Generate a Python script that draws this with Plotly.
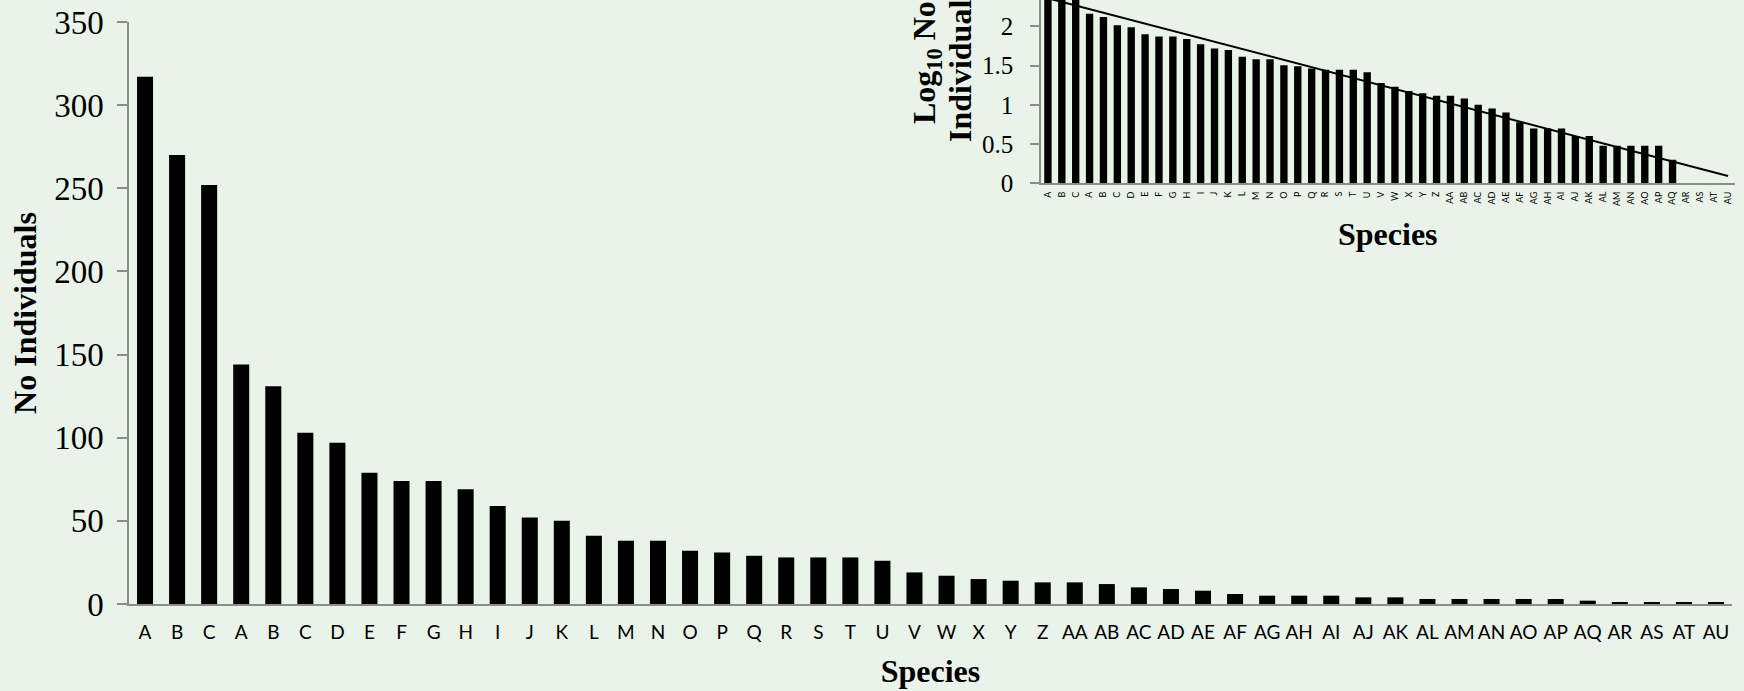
import plotly.graph_objects as go
import numpy as np

species = ["A", "B", "C", "A", "B", "C", "D", "E", "F", "G", "H", "I", "J", "K", "L",
           "M", "N", "O", "P", "Q", "R", "S", "T", "U", "V", "W", "X", "Y", "Z",
           "AA", "AB", "AC", "AD", "AE", "AF", "AG", "AH", "AI", "AJ", "AK", "AL",
           "AM", "AN", "AO", "AP", "AQ", "AR", "AS", "AT", "AU"]
individuals = [317, 270, 252, 144, 131, 103, 97, 79, 74, 74, 69, 59, 52, 50, 41,
               38, 38, 32, 31, 29, 28, 28, 28, 26, 19, 17, 15, 14, 13,
               13, 12, 10, 9, 8, 6, 5, 5, 5, 4, 4, 3,
               3, 3, 3, 3, 2, 1, 1, 1, 1]
log_individuals = [float(np.log10(v)) for v in individuals]
# linear trend line of the inset (end points)
trend_x = [0, 49]
trend_y = [2.357, 0.093]

main_yticks = [0, 50, 100, 150, 200, 250, 300, 350]
inset_yticks = [0, 0.5, 1, 1.5, 2, 2.5]

BG = "rgb(233,243,233)"
GRAY = "#8c8c8c"
SERIF = "Liberation Serif"
SANS = "Lato"

W, H = 1744, 691
ML, MB = 129, 87
PW, PH = W - ML, H - MB

def px_x(x):
    return (x - ML) / PW

def px_y(y):
    return (PH - y) / PH

xidx = list(range(len(species)))

fig = go.Figure()
fig.add_trace(go.Bar(x=xidx, y=individuals, width=0.5, marker=dict(color="black", line=dict(width=0)),
                     xaxis="x", yaxis="y", showlegend=False))
fig.add_trace(go.Bar(x=xidx, y=log_individuals, width=0.53, marker=dict(color="black", line=dict(width=0)),
                     xaxis="x2", yaxis="y2", showlegend=False))
fig.add_trace(go.Scatter(x=trend_x, y=trend_y, mode="lines", line=dict(color="black", width=2),
                         xaxis="x2", yaxis="y2", showlegend=False))

fig.update_layout(
    width=W, height=H,
    margin=dict(l=ML, r=0, t=0, b=MB, autoexpand=False),
    paper_bgcolor=BG, plot_bgcolor="rgba(0,0,0,0)",
    showlegend=False,
    xaxis=dict(domain=[0, px_x(1732)], range=[-0.5, 49.5], tickmode="array", tickvals=xidx, ticktext=species,
               showline=True, linecolor=GRAY, linewidth=1.5, ticks="", showgrid=False, zeroline=False,
               tickfont=dict(family=SANS, size=19, color="black"), ticklabelstandoff=10,
               title=dict(text="<b>Species</b>", font=dict(family=SERIF, size=32, color="black"), standoff=18),
               anchor="y", automargin=False),
    yaxis=dict(domain=[0, px_y(22)], range=[0, 350], tickmode="array", tickvals=main_yticks,
               showline=True, linecolor=GRAY, linewidth=1.5, ticks="outside", ticklen=10, tickcolor=GRAY, tickwidth=1.5,
               showgrid=False, zeroline=False,
               tickfont=dict(family=SERIF, size=33, color="black"), ticklabelstandoff=7,
               title=dict(text="<b>No Individuals</b>", font=dict(family=SERIF, size=32, color="black"), standoff=8),
               anchor="x", automargin=False),
    xaxis2=dict(domain=[px_x(1041), px_x(1735)], range=[-0.5, 49.5], tickmode="array", tickvals=xidx, ticktext=species,
                showline=True, linecolor=GRAY, linewidth=1.5, ticks="", showgrid=False, zeroline=False,
                tickangle=-90, tickfont=dict(family=SANS, size=9, color="black"), ticklabelstandoff=3,
                anchor="y2", automargin=False),
    yaxis2=dict(domain=[px_y(183.3), 1], range=[0, 183.3 / 78.5], tickmode="array", tickvals=inset_yticks,
                showline=True, linecolor=GRAY, linewidth=1.5, ticks="outside", ticklen=9, tickcolor=GRAY, tickwidth=1.5,
                showgrid=False, zeroline=False,
                tickfont=dict(family=SERIF, size=25, color="black"), ticklabelstandoff=12,
                anchor="x2", automargin=False),
    annotations=[
        dict(text="<b>Log<sub>10</sub> No</b>", textangle=-90, xref="paper", yref="paper",
             x=px_x(926), y=px_y(63), xanchor="center", yanchor="middle", showarrow=False,
             font=dict(family=SERIF, size=32, color="black")),
        dict(text="<b>Individuals</b>", textangle=-90, xref="paper", yref="paper",
             x=px_x(960), y=px_y(65), xanchor="center", yanchor="middle", showarrow=False,
             font=dict(family=SERIF, size=32, color="black")),
        dict(text="<b>Species</b>", xref="paper", yref="paper",
             x=px_x(1388), y=px_y(234), xanchor="center", yanchor="middle", showarrow=False,
             font=dict(family=SERIF, size=32, color="black")),
    ],
)

fig.write_html("out.html")
